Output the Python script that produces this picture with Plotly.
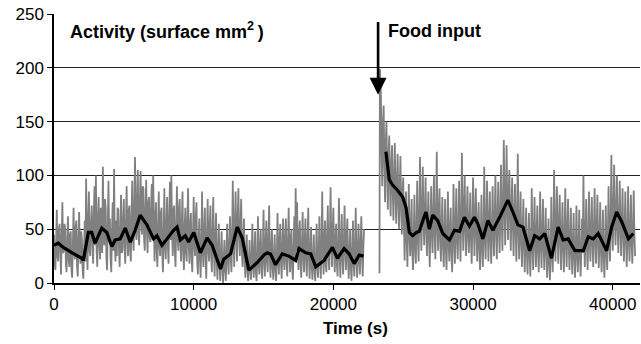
import plotly.graph_objects as go

# ---------------- data ----------------
# Raw activity (grey), one reading every 50 s
raw_step = 50
raw_before_start = 0
raw_before = [
    45, 20, 12, 38, 68, 25, 20, 50, 55, 30, 8, 42, 75, 28, 30, 55, 50, 18, 10, 40,
    62, 22, 15, 45, 48, 12, 5, 35, 70, 30, 22, 52, 58, 15, 6, 40, 66, 28, 18, 48,
    40, 12, 4, 30, 58, 20, 97, 35, 12, 60, 85, 30, 25, 55, 72, 40, 18, 65, 90, 35,
    100, 30, 15, 62, 80, 35, 22, 70, 60, 28, 108, 45, 35, 78, 70, 25, 12, 55, 95, 38,
    60, 22, 10, 48, 75, 30, 106, 40, 20, 58, 25, 70, 68, 32, 15, 50, 82, 28, 30, 60,
    78, 35, 18, 55, 90, 40, 25, 68, 72, 30, 20, 62, 95, 42, 30, 75, 117, 50, 40, 80,
    105, 45, 35, 80, 104, 55, 45, 90, 88, 40, 30, 70, 96, 48, 28, 75, 80, 42, 38, 72,
    92, 40, 100, 55, 20, 60, 75, 30, 15, 50, 85, 35, 25, 65, 70, 28, 10, 45, 88, 35,
    22, 55, 80, 35, 18, 62, 94, 40, 100, 50, 25, 68, 72, 30, 15, 55, 90, 42, 30, 70,
    78, 35, 20, 58, 85, 30, 12, 50, 70, 28, 20, 60, 88, 35, 18, 55, 65, 25, 10, 45,
    80, 35, 25, 62, 75, 20, 8, 40, 60, 22, 5, 38, 85, 30, 15, 50, 70, 25, 4, 42,
    78, 32, 20, 55, 72, 25, 10, 45, 80, 28, 6, 40, 65, 20, 3, 30, 55, 18, 2, 25,
    48, 15, 0, 22, 40, 12, 2, 30, 55, 20, 8, 35, 62, 25, 10, 40, 95, 40, 15, 55,
    85, 42, 20, 60, 88, 45, 25, 55, 78, 30, 15, 40, 60, 20, 5, 28, 45, 12, 2, 20,
    40, 12, 3, 25, 55, 15, 5, 30, 48, 10, 2, 22, 62, 18, 8, 35, 50, 14, 4, 28,
    68, 22, 6, 38, 58, 20, 10, 40, 72, 25, 5, 32, 50, 15, 3, 25, 45, 12, 2, 20,
    65, 25, 8, 40, 55, 18, 4, 35, 60, 22, 12, 42, 60, 20, 6, 35, 70, 28, 10, 42,
    50, 15, 3, 30, 62, 22, 88, 30, 75, 35, 12, 45, 58, 18, 5, 35, 66, 25, 10, 40,
    60, 22, 6, 38, 70, 25, 4, 30, 52, 15, 3, 25, 45, 12, 2, 22, 55, 18, 5, 28,
    62, 20, 4, 35, 85, 28, 8, 40, 58, 18, 10, 42, 72, 25, 12, 45, 89, 35, 15, 50,
    70, 28, 10, 42, 55, 18, 6, 35, 79, 25, 5, 38, 64, 22, 8, 40, 72, 28, 12, 45,
    60, 20, 4, 30, 50, 15, 2, 28, 58, 18, 6, 35, 70, 22, 5, 32, 55, 20, 8, 38,
    62, 25, 6, 35, 50,
]
spike_t = [23300, 23330]
spike_v = [9, 199]
raw_after_start = 23400
raw_after = [
    176, 120, 90, 150, 165, 110, 75, 130, 150, 100, 68, 120,
    137, 90, 62, 110, 128, 85, 58, 100, 130, 80, 55, 95, 120, 75, 50, 90, 118, 70, 45, 85,
    98, 55, 21, 60, 85, 40, 15, 55, 92, 45, 25, 50, 78, 30, 12, 40, 82, 35, 18, 48,
    95, 45, 20, 60, 117, 55, 30, 70, 108, 60, 35, 65, 98, 50, 25, 60, 85, 40, 15, 50,
    90, 50, 28, 65, 100, 45, 22, 60, 122, 55, 30, 68, 88, 40, 20, 55, 80, 35, 15, 45,
    78, 32, 12, 45, 85, 38, 20, 50, 70, 28, 10, 40, 92, 45, 18, 55, 88, 40, 22, 50,
    95, 50, 20, 55, 121, 60, 30, 70, 100, 50, 25, 62, 90, 45, 28, 60, 84, 40, 18, 52,
    98, 55, 25, 65, 88, 45, 20, 55, 75, 32, 12, 40, 82, 35, 15, 45, 108, 45, 22, 55,
    95, 50, 20, 58, 85, 40, 18, 52, 90, 45, 25, 60, 100, 50, 22, 58, 94, 52, 28, 62,
    110, 60, 30, 72, 133, 75, 35, 80, 128, 70, 40, 85, 105, 60, 30, 70, 98, 55, 25, 62,
    92, 50, 20, 55, 120, 55, 22, 50, 85, 40, 15, 48, 78, 35, 10, 40, 70, 30, 8, 35,
    65, 28, 6, 35, 88, 40, 12, 45, 80, 38, 15, 48, 72, 30, 10, 40, 85, 38, 14, 45,
    78, 35, 12, 42, 70, 30, 5, 28, 60, 20, 2.5, 25, 80, 35, 10, 40, 105, 50, 20, 55,
    90, 48, 18, 55, 82, 40, 12, 45, 75, 35, 10, 42, 88, 40, 15, 48, 78, 35, 12, 40,
    70, 30, 8, 35, 65, 25, 5, 30, 72, 28, 10, 35, 68, 25, 6, 30, 60, 28, 100, 40,
    15, 45, 78, 35, 12, 40, 85, 40, 20, 48, 80, 38, 15, 45, 88, 42, 18, 50, 82, 40,
    14, 40, 75, 32, 10, 35, 68, 28, 5, 30, 72, 32, 12, 45, 90, 42, 20, 55, 119, 60,
    30, 65, 110, 55, 35, 70, 100, 52, 28, 62, 95, 50, 25, 58, 88, 45, 20, 52, 85, 40,
    15, 45, 90, 40, 20, 50, 82, 38, 18, 48, 86, 45, 25,
]

# Smoothed activity (black)
smooth_before_t = [0, 300, 670, 1300, 1990, 2100, 2460, 2700, 2940, 3420, 3780, 4140,
                   4380, 4740, 5100, 5460, 5810, 6170, 6650, 7130, 7370, 7730, 8090,
                   8560, 8810, 9040, 9400, 9640, 10000, 10480, 10960, 11320, 11920,
                   12150, 12640, 13110, 13470, 13950, 14550, 15030, 15270, 15500,
                   15860, 16340, 16820, 17300, 17540, 18020, 18380, 18740, 19330,
                   19930, 20290, 20770, 21130, 21490, 21850, 22160]
smooth_before_v = [35, 37, 33, 28, 23, 21, 47, 47, 37, 51, 47, 34,
                   40, 41, 51, 38, 49, 63, 54, 41, 44, 35, 41,
                   49, 52, 40, 44, 38, 47, 28, 42, 35, 13,
                   22, 27, 52, 42, 12, 19, 26, 28, 27,
                   17, 27, 25, 21, 32, 28, 27, 15, 21,
                   33, 23, 32, 27, 18, 26, 25]
smooth_after_t = [23760, 24000, 24240, 24600, 24960, 25200, 25440, 25680, 25950, 26150,
                  26510, 26630, 26870, 27110, 27470, 27830, 28310, 28670, 29030, 29380,
                  29740, 30100, 30340, 30700, 31060, 31420, 31900, 32490, 32850, 33210,
                  33570, 34050, 34410, 34770, 35130, 35610, 36090, 36450, 36810, 37290,
                  37890, 38250, 38600, 38960, 39560, 39920, 40280, 40640, 41120, 41470]
smooth_after_v = [122, 96, 91, 86, 80, 70, 47, 44, 47, 48,
                  62, 66, 50, 63, 58, 46, 40, 49, 48, 61,
                  53, 61, 55, 41, 58, 49, 61, 77, 66, 54,
                  52, 30, 44, 41, 46, 23, 52, 40, 41, 30,
                  30, 43, 41, 46, 30, 52, 66, 57, 41, 46]

x_ticks = [0, 10000, 20000, 30000, 40000]
y_ticks = [0, 50, 100, 150, 200, 250]

food_t = 23200
food_arrow_tip = 175
food_arrow_tail = 244

# ---------------- build traces ----------------
raw_t = ([raw_before_start + i * raw_step for i in range(len(raw_before))]
         + [None] + spike_t
         + [raw_after_start + i * raw_step for i in range(len(raw_after))])
raw_v = raw_before + [None] + spike_v + raw_after

smooth_t = smooth_before_t + [None] + smooth_after_t
smooth_v = smooth_before_v + [None] + smooth_after_v

FONT = "Liberation Sans, Arial, sans-serif"

fig = go.Figure()
fig.add_trace(go.Scatter(x=raw_t, y=raw_v, mode="lines",
                         line=dict(color="#808080", width=1.8, simplify=False),
                         connectgaps=False, hoverinfo="skip", showlegend=False))
fig.add_trace(go.Scatter(x=smooth_t, y=smooth_v, mode="lines",
                         line=dict(color="black", width=3.2, simplify=False),
                         connectgaps=False, showlegend=False))

fig.update_layout(
    width=641, height=344,
    margin=dict(l=54, r=1, t=14, b=61),
    paper_bgcolor="white", plot_bgcolor="white",
    font=dict(family=FONT, size=17, color="black"),
    showlegend=False,
    xaxis=dict(range=[0, 41950], tickvals=x_ticks, ticktext=[str(v) for v in x_ticks],
               showgrid=False, zeroline=False, showline=True, linecolor="black",
               linewidth=1.5, ticks="outside", ticklen=5, tickcolor="black",
               tickfont=dict(size=17), automargin=False),
    yaxis=dict(range=[0, 250], tickvals=y_ticks, ticktext=[str(v) for v in y_ticks],
               showgrid=True, gridcolor="#222222", gridwidth=1, zeroline=False,
               showline=True, linecolor="black", linewidth=1.5, ticks="outside",
               ticklen=5, tickcolor="black", tickfont=dict(size=17), automargin=False),
    annotations=[
        dict(text="<b>Activity (surface mm<sup>2</sup>\u2009)</b>", xref="paper", yref="paper",
             x=0.024, y=0.937, xanchor="left", yanchor="middle", showarrow=False,
             font=dict(size=18)),
        dict(text="<b>Food input</b>", xref="x", yref="paper", x=23780, y=0.937,
             xanchor="left", yanchor="middle", showarrow=False, font=dict(size=18)),
        dict(text="<b>Time (s)</b>", xref="paper", yref="paper", x=0.514, y=-0.171,
             xanchor="center", yanchor="middle", showarrow=False, font=dict(size=17)),
        dict(text="", x=food_t, y=food_arrow_tip, ax=food_t, ay=food_arrow_tail,
             xref="x", yref="y", axref="x", ayref="y", showarrow=True,
             arrowhead=2, arrowsize=1.3, arrowwidth=2.6, arrowcolor="black", standoff=0),
    ],
)

fig.write_html("out.html", config={"displayModeBar": False},
               post_script="document.body.style.margin='0';document.body.style.padding='0';")
